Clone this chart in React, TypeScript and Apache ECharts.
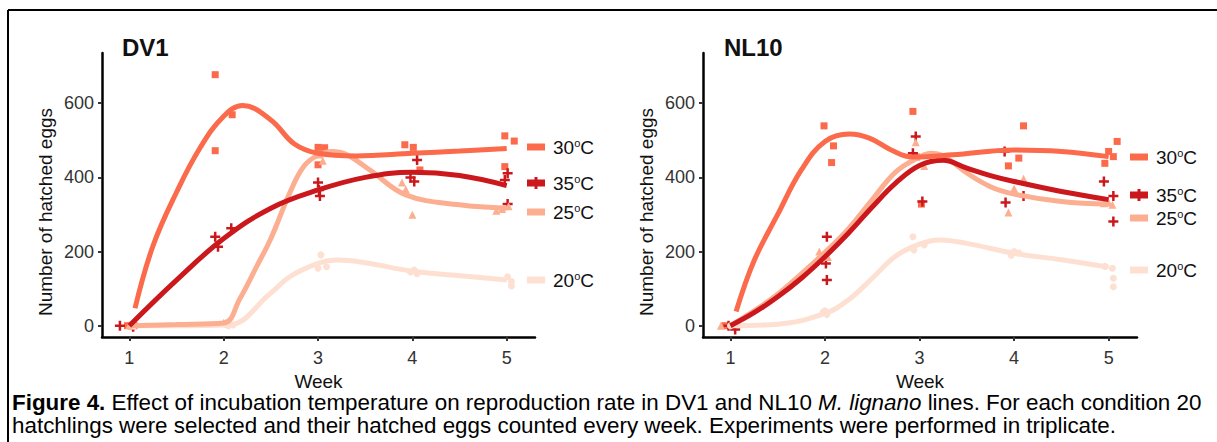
import React, { useEffect, useRef } from "react";
import * as echarts from "echarts";

// ---------- axis ticks ----------
const weekTicks = [1, 2, 3, 4, 5];
const eggTicks = [0, 200, 400, 600];
const tempLabels = ["30", "35", "25", "20"];

// ---------- DV1 observations [week (jittered), hatched eggs] ----------
const dv1Obs30 = [[0.98, 0], [1.02, 0], [1.05, 0], [1.91, 677], [2.09, 569], [1.91, 472], [3.0, 481], [3.07, 480], [3.0, 434], [3.92, 488], [4.01, 481], [4.08, 420], [4.98, 512], [5.08, 498], [4.98, 429]];
const dv1Obs35 = [[0.9, 0], [1.04, -3], [1.91, 240], [1.94, 213], [2.08, 263], [3.0, 386], [3.01, 366], [3.02, 350], [4.05, 447], [3.98, 400], [4.02, 389], [5.01, 411], [4.98, 393], [5.01, 328]];
const dv1Obs25 = [[1.02, 0], [1.0, 2], [2.05, 5], [2.0, 8], [3.05, 445], [3.02, 462], [3.89, 386], [3.93, 368], [4.0, 299], [4.89, 310], [4.95, 315], [5.02, 322]];
const dv1Obs20 = [[1.05, 0], [2.05, 0], [2.1, 2], [3.03, 191], [3.0, 155], [3.09, 159], [4.02, 150], [4.05, 140], [3.98, 145], [5.01, 132], [5.05, 119], [5.05, 107]];

// ---------- DV1 smoothed curves ----------
const dv1Fit30 = [[1.06, 47], [1.25, 215], [1.5, 360], [1.75, 480], [2.0, 565], [2.2, 594], [2.5, 555], [2.75, 490], [3.0, 465], [3.4, 458], [4.0, 465], [4.5, 471], [5.0, 478]];
const dv1Fit35 = [[1, 0], [1.5, 123], [2, 235], [2.5, 317], [3, 366], [3.5, 400], [4, 414], [4.5, 405], [5, 378]];
const dv1Fit25 = [[1, 0], [1.5, 3], [2.0, 7], [2.17, 72], [2.35, 160], [2.5, 235], [2.7, 358], [2.85, 430], [3.0, 460], [3.15, 470], [3.3, 462], [3.55, 420], [3.93, 353], [4.5, 326], [5, 317]];
const dv1Fit20 = [[1, 0], [1.5, 0], [2.05, 2], [2.5, 88], [2.7, 132], [3.0, 168], [3.2, 177], [3.5, 170], [4, 147], [4.5, 135], [5, 123]];

// ---------- NL10 observations ----------
const nlObs30 = [[0.94, 0], [1.0, 0], [1.99, 539], [2.09, 485], [2.07, 440], [2.93, 578], [3.02, 328], [2.97, 455], [4.1, 539], [4.05, 452], [3.94, 431], [5.09, 497], [5.0, 470], [5.05, 456], [4.96, 438]];
const nlObs35 = [[0.98, 0], [1.05, -10], [2.02, 240], [2.01, 168], [2.02, 123], [2.96, 510], [2.93, 465], [3.03, 335], [3.9, 470], [3.91, 332], [4.1, 350], [4.95, 389], [5.05, 350], [5.05, 281]];
const nlObs25 = [[0.9, 0], [1.94, 200], [2.0, 190], [2.03, 185], [2.96, 495], [3.05, 431], [4.1, 396], [3.94, 305], [4.0, 370], [5.04, 326], [4.95, 330], [5.0, 332]];
const nlObs20 = [[1.0, 0], [1.98, 36], [2.02, 30], [2.0, 40], [2.93, 240], [2.94, 204], [3.05, 218], [3.97, 190], [4.05, 196], [4.0, 200], [5.04, 155], [5.05, 128], [5.05, 105], [4.96, 160]];

// ---------- NL10 smoothed curves ----------
const nlFit30 = [[1.06, 38], [1.25, 175], [1.5, 300], [1.75, 420], [2.0, 497], [2.26, 517], [2.47, 506], [2.7, 474], [2.93, 455], [3.35, 461], [4.0, 474], [4.5, 470], [5, 456]];
const nlFit35 = [[1, 0], [1.25, 35], [1.5, 78], [1.75, 128], [2, 186], [2.25, 250], [2.5, 320], [2.75, 385], [3, 432], [3.25, 446], [3.5, 425], [3.75, 405], [4, 389], [4.5, 362], [5, 340]];
const nlFit25 = [[1, 0], [1.25, 40], [1.5, 85], [1.75, 140], [2, 198], [2.25, 262], [2.5, 340], [2.75, 415], [3, 455], [3.12, 465], [3.25, 458], [3.5, 412], [3.75, 375], [4, 355], [4.5, 335], [5, 328]];
const nlFit20 = [[1, 0], [1.5, 4], [2, 33], [2.25, 70], [2.5, 128], [2.75, 188], [3.0, 220], [3.21, 231], [3.5, 222], [4, 195], [4.5, 178], [5, 158]];

const COLORS: Record<string, string> = {
  "30": "#FB6A4A",
  "35": "#CB181D",
  "25": "#FCAE91",
  "20": "#FEE0D2",
};
const SYMBOLS: Record<string, string> = {
  "30": "rect",
  "35": "path://M3,0H5V3H8V5H5V8H3V5H0V3H3Z",
  "25": "triangle",
  "20": "circle",
};
const SIZES: Record<string, number> = { "30": 7, "35": 10, "25": 8, "20": 7 };
const FONT = "Liberation Sans, Arial, sans-serif";

const panels = [
  {
    title: "DV1",
    obs: { "30": dv1Obs30, "35": dv1Obs35, "25": dv1Obs25, "20": dv1Obs20 },
    fit: { "30": dv1Fit30, "35": dv1Fit35, "25": dv1Fit25, "20": dv1Fit20 },
  },
  {
    title: "NL10",
    obs: { "30": nlObs30, "35": nlObs35, "25": nlObs25, "20": nlObs20 },
    fit: { "30": nlFit30, "35": nlFit35, "25": nlFit25, "20": nlFit20 },
  },
];

const grids = [
  { left: 102, top: 53, width: 433, height: 284 },
  { left: 703, top: 53, width: 434, height: 284 },
];
const legendPos = [
  { x: 527, ys: { "30": 147, "35": 183, "25": 212, "20": 280 } as Record<string, number> },
  { x: 1130, ys: { "30": 157, "35": 195, "25": 218, "20": 270 } as Record<string, number> },
];
const titlePos = [122, 724];
const yTitleX = [45, 646];

function buildOption() {
  const series: any[] = [];
  panels.forEach((p, gi) => {
    tempLabels.forEach((t) => {
      series.push({
        type: "scatter",
        name: `${p.title} ${t} obs`,
        xAxisIndex: gi,
        yAxisIndex: gi,
        data: (p.obs as any)[t],
        symbol: SYMBOLS[t],
        symbolSize: SIZES[t],
        itemStyle: { color: COLORS[t], opacity: 1 },
        silent: true,
        z: 2,
      });
    });
    const lineOrder = ["20", "25", "35", "30"];
    lineOrder.forEach((t, k) => {
      series.push({
        type: "line",
        name: `${p.title} ${t} fit`,
        xAxisIndex: gi,
        yAxisIndex: gi,
        data: (p.fit as any)[t],
        smooth: 0.4,
        showSymbol: false,
        symbol: "none",
        lineStyle: { width: 5, color: COLORS[t], cap: "butt" },
        silent: true,
        z: 3 + k,
      });
    });
  });

  const xAxis = grids.map((_, gi) => ({
    type: "value",
    gridIndex: gi,
    min: 0.71,
    max: 5.3,
    name: "Week",
    nameLocation: "middle",
    nameGap: 34,
    nameTextStyle: { fontSize: 19, color: "#111", fontFamily: FONT },
    axisLine: { show: true, onZero: false, lineStyle: { color: "#000", width: 2.5 } },
    axisTick: { show: true, customValues: weekTicks, length: 4, lineStyle: { color: "#333", width: 2 } },
    axisLabel: { customValues: weekTicks, fontSize: 18, color: "#333", fontFamily: FONT, margin: 12 },
    splitLine: { show: false },
  }));
  const yAxis = grids.map((_, gi) => ({
    type: "value",
    gridIndex: gi,
    min: -30.5,
    max: 735.5,
    axisLine: { show: true, onZero: false, lineStyle: { color: "#000", width: 2.5 } },
    axisTick: { show: true, customValues: eggTicks, length: 4, lineStyle: { color: "#333", width: 2 } },
    axisLabel: { customValues: eggTicks, fontSize: 18, color: "#333", fontFamily: FONT, margin: 8 },
    splitLine: { show: false },
  }));

  const graphic: any[] = [
    { type: "line", shape: { x1: 8, y1: 10, x2: 1217, y2: 10 }, style: { stroke: "#000", lineWidth: 2 } },
    { type: "line", shape: { x1: 8, y1: 10, x2: 8, y2: 442 }, style: { stroke: "#000", lineWidth: 2 } },
  ];
  panels.forEach((p, gi) => {
    graphic.push({
      type: "text",
      x: titlePos[gi],
      y: 47,
      style: { text: p.title, font: `bold 24px ${FONT}`, fill: "#111", verticalAlign: "middle", align: "left" },
    });
    graphic.push({
      type: "text",
      x: yTitleX[gi],
      y: 212,
      rotation: Math.PI / 2,
      style: { text: "Number of hatched eggs", font: `19px ${FONT}`, fill: "#111", align: "center", verticalAlign: "middle" },
    });
    const lp = legendPos[gi];
    tempLabels.forEach((t) => {
      const y = lp.ys[t];
      graphic.push({
        type: "rect",
        shape: { x: lp.x, y: y - 3.5, width: 18, height: 7 },
        style: { fill: COLORS[t] },
      });
      if (t === "35") {
        graphic.push({
          type: "rect",
          shape: { x: lp.x + 7.5, y: y - 6, width: 3, height: 12 },
          style: { fill: COLORS[t] },
        });
      }
      graphic.push({
        type: "text",
        x: lp.x + 26,
        y,
        style: {
          text: `{n|${t}}{s|o}{n|C}`,
          verticalAlign: "middle",
          align: "left",
          rich: {
            n: { fontSize: 19, fontFamily: FONT, fill: "#111", lineHeight: 20, verticalAlign: "bottom" },
            s: { fontSize: 11, fontFamily: FONT, fill: "#111", lineHeight: 20, verticalAlign: "top" },
          },
        },
      });
    });
  });

  graphic.push({
    type: "text",
    x: 12,
    y: 391,
    style: {
      text:
        "{b|Figure 4.}{r| Effect of incubation temperature on reproduction rate in DV1 and NL10 }{i|M. lignano}{r| lines. For each condition 20}\n" +
        "{r|hatchlings were selected and their hatched eggs counted every week. Experiments were performed in triplicate.}",
      verticalAlign: "top",
      align: "left",
      rich: {
        b: { fontSize: 22.4, fontWeight: "bold", fontFamily: FONT, fill: "#000", lineHeight: 23 },
        r: { fontSize: 22.4, fontFamily: FONT, fill: "#000", lineHeight: 23 },
        i: { fontSize: 22.4, fontStyle: "italic", fontFamily: FONT, fill: "#000", lineHeight: 23 },
      },
    },
  });

  return {
    animation: false,
    backgroundColor: "#fff",
    grid: grids.map((g) => ({ ...g, containLabel: false })),
    xAxis,
    yAxis,
    series,
    graphic,
  };
}

export default function App() {
  const ref = useRef<HTMLDivElement>(null);
  useEffect(() => {
    if (!ref.current) return;
    const chart = echarts.init(ref.current, null, { renderer: "svg" });
    chart.setOption(buildOption() as any);
    return () => chart.dispose();
  }, []);
  return (
    <div
      ref={ref}
      style={{ position: "fixed", left: 0, top: 0, width: 1217, height: 442, background: "#fff" }}
    />
  );
}
